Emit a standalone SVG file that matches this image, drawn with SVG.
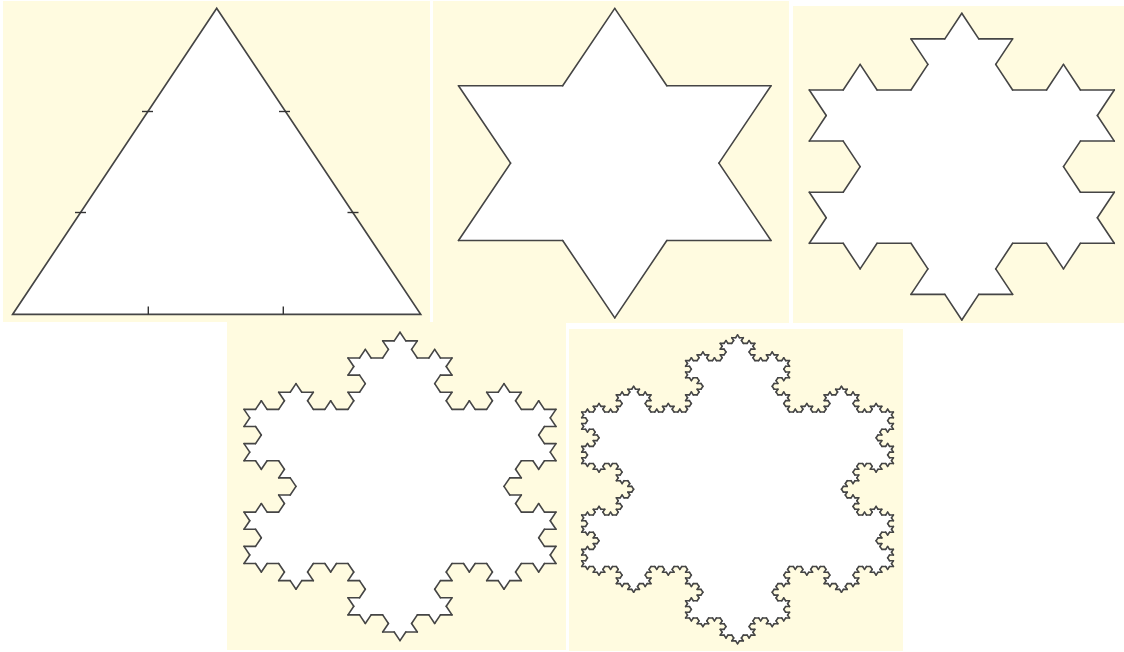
<svg xmlns="http://www.w3.org/2000/svg" xmlns:xlink="http://www.w3.org/1999/xlink" width="1124" height="652" viewBox="0 0 1124 652">
<style>
.bg{fill:#fffbe0;stroke:none}
.edge{stroke:#454545;stroke-width:1.6;stroke-linecap:round;fill:none;vector-effect:non-scaling-stroke}
.fillw{fill:#ffffff;stroke:none}
.tick{stroke:#333333;stroke-width:1.4;fill:none}
.tri{stroke:#454545;stroke-width:1.7;fill:#ffffff;stroke-linejoin:miter}
</style>
<defs>
<line id="s0" class="edge" x1="0" y1="0" x2="1" y2="0"/>
<g id="s1">
<use href="#s0" transform="scale(0.333333)"/>
<use href="#s0" transform="translate(0.333333,0) rotate(-60) scale(0.333333)"/>
<use href="#s0" transform="translate(0.5,-0.288675) rotate(60) scale(0.333333)"/>
<use href="#s0" transform="translate(0.666667,0) scale(0.333333)"/>
</g>
<g id="s2">
<use href="#s1" transform="scale(0.333333)"/>
<use href="#s1" transform="translate(0.333333,0) rotate(-60) scale(0.333333)"/>
<use href="#s1" transform="translate(0.5,-0.288675) rotate(60) scale(0.333333)"/>
<use href="#s1" transform="translate(0.666667,0) scale(0.333333)"/>
</g>
<g id="s3">
<use href="#s2" transform="scale(0.333333)"/>
<use href="#s2" transform="translate(0.333333,0) rotate(-60) scale(0.333333)"/>
<use href="#s2" transform="translate(0.5,-0.288675) rotate(60) scale(0.333333)"/>
<use href="#s2" transform="translate(0.666667,0) scale(0.333333)"/>
</g>
<g id="s4">
<use href="#s3" transform="scale(0.333333)"/>
<use href="#s3" transform="translate(0.333333,0) rotate(-60) scale(0.333333)"/>
<use href="#s3" transform="translate(0.5,-0.288675) rotate(60) scale(0.333333)"/>
<use href="#s3" transform="translate(0.666667,0) scale(0.333333)"/>
</g>
<polygon id="t" class="fillw" points="0.333333,0 0.5,-0.288675 0.666667,0 0.5,0.07"/>
<g id="f1"><use href="#t"/></g>
<g id="f2">
<use href="#t"/>
<use href="#f1" transform="scale(0.333333)"/>
<use href="#f1" transform="translate(0.333333,0) rotate(-60) scale(0.333333)"/>
<use href="#f1" transform="translate(0.5,-0.288675) rotate(60) scale(0.333333)"/>
<use href="#f1" transform="translate(0.666667,0) scale(0.333333)"/>
</g>
<g id="f3">
<use href="#t"/>
<use href="#f2" transform="scale(0.333333)"/>
<use href="#f2" transform="translate(0.333333,0) rotate(-60) scale(0.333333)"/>
<use href="#f2" transform="translate(0.5,-0.288675) rotate(60) scale(0.333333)"/>
<use href="#f2" transform="translate(0.666667,0) scale(0.333333)"/>
</g>
<g id="f4">
<use href="#t"/>
<use href="#f3" transform="scale(0.333333)"/>
<use href="#f3" transform="translate(0.333333,0) rotate(-60) scale(0.333333)"/>
<use href="#f3" transform="translate(0.5,-0.288675) rotate(60) scale(0.333333)"/>
<use href="#f3" transform="translate(0.666667,0) scale(0.333333)"/>
</g>
<polygon id="base" class="fillw" points="0,0 0.5,-0.866025 1,0"/>
<g id="flake1">
<use href="#base"/>
<use href="#f1" transform="rotate(-60)"/>
<use href="#f1" transform="translate(0.5,-0.866025) rotate(60)"/>
<use href="#f1" transform="translate(1,0) rotate(180)"/>
<use href="#s1" transform="rotate(-60)"/>
<use href="#s1" transform="translate(0.5,-0.866025) rotate(60)"/>
<use href="#s1" transform="translate(1,0) rotate(180)"/>
</g>
<g id="flake2">
<use href="#base"/>
<use href="#f2" transform="rotate(-60)"/>
<use href="#f2" transform="translate(0.5,-0.866025) rotate(60)"/>
<use href="#f2" transform="translate(1,0) rotate(180)"/>
<use href="#s2" transform="rotate(-60)"/>
<use href="#s2" transform="translate(0.5,-0.866025) rotate(60)"/>
<use href="#s2" transform="translate(1,0) rotate(180)"/>
</g>
<g id="flake3">
<use href="#base"/>
<use href="#f3" transform="rotate(-60)"/>
<use href="#f3" transform="translate(0.5,-0.866025) rotate(60)"/>
<use href="#f3" transform="translate(1,0) rotate(180)"/>
<use href="#s3" transform="rotate(-60)"/>
<use href="#s3" transform="translate(0.5,-0.866025) rotate(60)"/>
<use href="#s3" transform="translate(1,0) rotate(180)"/>
</g>
<g id="flake4">
<use href="#base"/>
<use href="#f4" transform="rotate(-60)"/>
<use href="#f4" transform="translate(0.5,-0.866025) rotate(60)"/>
<use href="#f4" transform="translate(1,0) rotate(180)"/>
<use href="#s4" transform="rotate(-60)"/>
<use href="#s4" transform="translate(0.5,-0.866025) rotate(60)"/>
<use href="#s4" transform="translate(1,0) rotate(180)"/>
</g>
</defs>
<rect width="1124" height="652" fill="#ffffff"/>

<g id="panel-level0">
<rect class="bg" x="3" y="1" width="427" height="321"/>
<polygon class="tri" points="12.7,314.3 216.7,8.3 420.7,314.3"/>
<line class="tick" x1="148.3" y1="306.5" x2="148.3" y2="314.3"/>
<line class="tick" x1="283.3" y1="306.5" x2="283.3" y2="314.3"/>
<line class="tick" x1="142" y1="111.5" x2="153" y2="111.5"/>
<line class="tick" x1="279" y1="111.5" x2="290" y2="111.5"/>
<line class="tick" x1="75" y1="212.5" x2="86" y2="212.5"/>
<line class="tick" x1="347.5" y1="212.5" x2="358.5" y2="212.5"/>
</g>

<g id="panel-level1">
<rect class="bg" x="433" y="1" width="356" height="322"/>
<use href="#flake1" transform="matrix(312.5,0,0,268,458.5,240.5)"/>
</g>

<g id="panel-level2">
<rect class="bg" x="793" y="6" width="331" height="317"/>
<use href="#flake2" transform="matrix(305,0,0,265.6,809.3,243.3)"/>
</g>

<g id="panel-level3">
<rect class="bg" x="227" y="322" width="339" height="328"/>
<use href="#flake3" transform="matrix(312,0,0,267,244,563.5)"/>
</g>

<g id="panel-level4">
<rect class="bg" x="569" y="329" width="334" height="322"/>
<use href="#flake4" transform="matrix(311.7,0,0,267.5,581.7,566.5)"/>
</g>
</svg>
